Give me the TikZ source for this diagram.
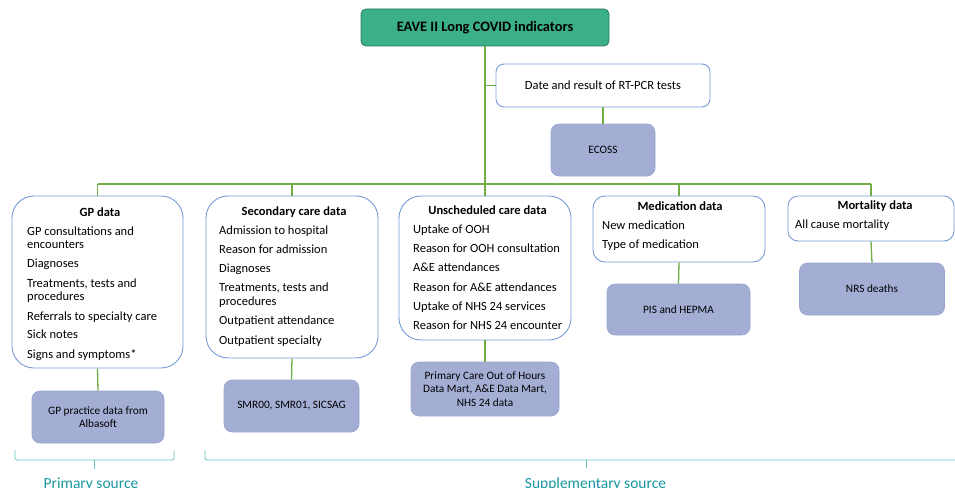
\documentclass[tikz,border=0pt]{standalone}
\usepackage{fontspec}
\setmainfont{Carlito}
\definecolor{lgreen}{RGB}{112,173,71}
\definecolor{tfill}{RGB}{59,176,134}
\definecolor{tdraw}{RGB}{42,120,92}
\definecolor{bblue}{RGB}{120,155,215}
\definecolor{sfill}{RGB}{164,174,212}
\definecolor{sdraw}{RGB}{152,163,206}
\definecolor{tealline}{RGB}{105,192,192}
\definecolor{tealtext}{RGB}{22,150,160}
\begin{document}
\begin{tikzpicture}[x=1pt,y=-1pt,
  conn/.style={draw=lgreen,line width=1.3pt},
  wbox/.style={draw=bblue,fill=white,line width=0.9pt,inner sep=0pt,rectangle},
  sbox/.style={draw=sdraw,fill=sfill,line width=0.6pt,rounded corners=8pt,inner sep=0pt,align=center,
    font=\fontsize{11.3}{13.5}\selectfont},
  hdr/.style={inner sep=0pt,anchor=base,font=\fontsize{12.5}{13.6}\selectfont\bfseries},
  itm/.style={inner sep=0pt,anchor=base west,font=\fontsize{12.5}{13.6}\selectfont},
  brc/.style={draw=tealline,line width=0.9pt,rounded corners=1.5pt},
  lbl/.style={inner sep=0pt,anchor=base,text=tealtext,font=\fontsize{15.5}{18}\selectfont}]
\useasboundingbox (0,0) rectangle (955,487);
% title
\node[draw=tdraw,fill=tfill,line width=0.8pt,rounded corners=5pt,minimum width=248pt,minimum height=37pt,inner sep=0pt] (title) at (485,27.5) {};
\node[inner sep=0pt,anchor=base,font=\fontsize{14.4}{16}\selectfont\bfseries] (titletxt) at (485,32) {EAVE II Long COVID indicators};
% RT-PCR
\node[wbox,rounded corners=8pt,minimum width=214pt,minimum height=43pt] (rtpcr) at (603,85.5) {};
\node[inner sep=0pt,anchor=base,font=\fontsize{12.5}{13.6}\selectfont] (rtpcrtxt) at (603,89.5) {Date and result of RT-PCR tests};
\node[sbox,minimum width=104pt,minimum height=52pt] (ecoss) at (603,150) {ECOSS};
% main boxes
\node[wbox,rounded corners=22pt,minimum width=171pt,minimum height=172pt] (gp) at (97.5,282) {};
\node[wbox,rounded corners=22pt,minimum width=172pt,minimum height=162pt] (sec) at (292,277) {};
\node[wbox,rounded corners=22pt,minimum width=172pt,minimum height=144pt] (uns) at (485,268) {};
\node[wbox,rounded corners=12pt,minimum width=172pt,minimum height=66pt] (med) at (679,229) {};
\node[wbox,rounded corners=10pt,minimum width=166pt,minimum height=45pt] (mort) at (871,218.5) {};
% GP text
\node[hdr] (gph) at (100,216) {GP data};
\node[itm] (gp1) at (27,235) {GP consultations and};
\node[itm] (gp1b) at (27,248.5) {encounters};
\node[itm] (gp2) at (27,267.5) {Diagnoses};
\node[itm] (gp3) at (27,287) {Treatments, tests and};
\node[itm] (gp3b) at (27,300.5) {procedures};
\node[itm] (gp4) at (27,320) {Referrals to specialty care};
\node[itm] (gp5) at (27,338.5) {Sick notes};
\node[itm] (gp6) at (27,358) {Signs and symptoms*};
% Secondary text
\node[hdr] (sech) at (294,215) {Secondary care data};
\node[itm] (sec1) at (219,234) {Admission to hospital};
\node[itm] (sec2) at (219,253.5) {Reason for admission};
\node[itm] (sec3) at (219,272.5) {Diagnoses};
\node[itm] (sec4) at (219,291.5) {Treatments, tests and};
\node[itm] (sec4b) at (219,305) {procedures};
\node[itm] (sec5) at (219,324) {Outpatient attendance};
\node[itm] (sec6) at (219,344) {Outpatient specialty};
% Unscheduled text
\node[hdr] (unsh) at (487.5,214) {Unscheduled care data};
\node[itm] (uns1) at (413,233.5) {Uptake of OOH};
\node[itm] (uns2) at (413,252.5) {Reason for OOH consultation};
\node[itm] (uns3) at (413,271.5) {A\&E attendances};
\node[itm] (uns4) at (413,291) {Reason for A\&E attendances};
\node[itm] (uns5) at (413,310) {Uptake of NHS 24 services};
\node[itm] (uns6) at (413,329) {Reason for NHS 24 encounter};
% Medication text
\node[hdr] (medh) at (680,210) {Medication data};
\node[itm] (med1) at (602,229) {New medication};
\node[itm] (med2) at (602,248.5) {Type of medication};
% Mortality text
\node[hdr] (morth) at (875,209) {Mortality data};
\node[itm] (mort1) at (795,228.5) {All cause mortality};
% source boxes
\node[sbox,minimum width=132pt,minimum height=52pt] (gps) at (98,417) {GP practice data from\\Albasoft};
\node[sbox,minimum width=135pt,minimum height=52pt] (secs) at (291.5,406) {SMR00, SMR01, SICSAG};
\node[sbox,minimum width=148pt,minimum height=54pt] (unss) at (485,389) {Primary Care Out of Hours\\Data Mart, A\&E Data Mart,\\NHS 24 data};
\node[sbox,minimum width=143pt,minimum height=51pt] (meds) at (678.5,309.5) {PIS and HEPMA};
\node[sbox,minimum width=145pt,minimum height=52pt] (morts) at (872,289) {NRS deaths};
% connectors
\coordinate (hl) at (0,184);
\draw[conn] (title.south) -- (uns.north);
\draw[conn] (title.south |- rtpcr.west) -- (rtpcr.west);
\draw[conn] (rtpcr.south) -- (ecoss.north);
\draw[conn] (gp.north |- hl) -- (mort.north |- hl);
\draw[conn] (gp.north |- hl) -- (gp.north);
\draw[conn] (sec.north |- hl) -- (sec.north);
\draw[conn] (med.north |- hl) -- (med.north);
\draw[conn] (mort.north |- hl) -- (mort.north);
\draw[conn] (gp.south) -- (gps.north);
\draw[conn] (sec.south) -- (secs.north);
\draw[conn] (uns.south) -- (unss.north);
\draw[conn] (med.south) -- (meds.north);
\draw[conn] (mort.south) -- (morts.north);
% braces
\coordinate (pb1) at (15,450);
\coordinate (pb2) at (174,450);
\coordinate (pbm) at (94,460);
\coordinate (pbt) at (94,469);
\draw[brc] (pb1) |- (pbm) -| (pb2);
\draw[brc] (pbm) -- (pbt);
\coordinate (sb1) at (205,450);
\coordinate (sb2) at (956,460);
\coordinate (sbm) at (586,460);
\coordinate (sbt) at (586,468);
\draw[brc] (sb1) |- (sb2);
\draw[brc] (sbm) -- (sbt);
\node[lbl] (prim) at (91,488.5) {Primary source};
\node[lbl] (supp) at (595.5,488.5) {Supplementary source};
\end{tikzpicture}
\end{document}
